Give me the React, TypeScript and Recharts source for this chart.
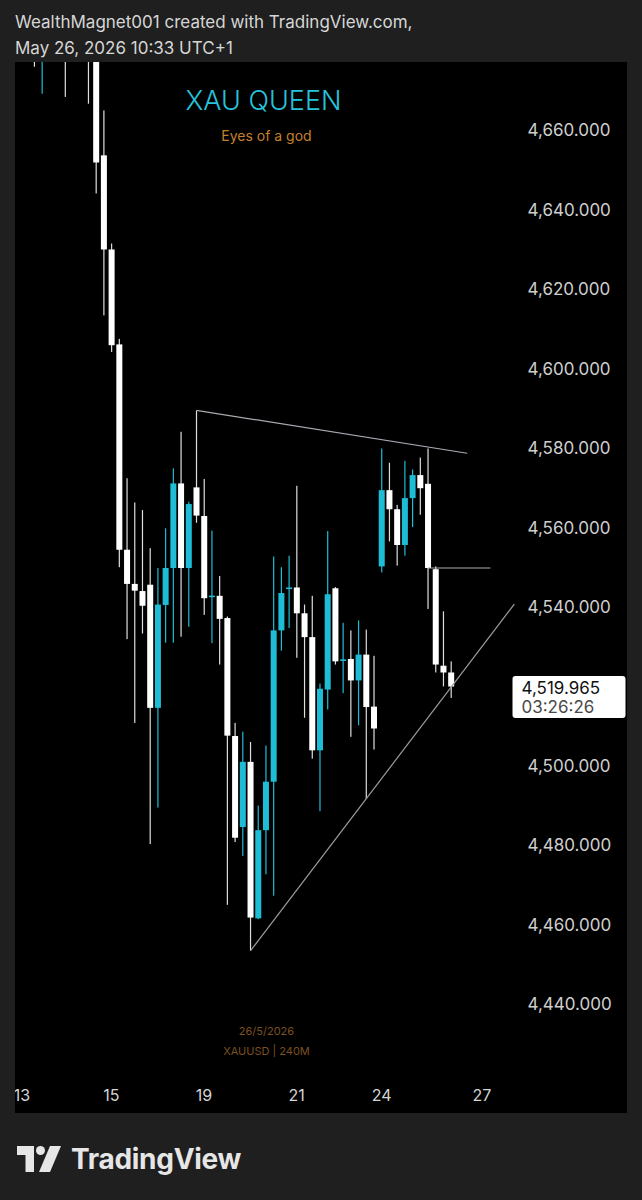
import React from "react";
import { ComposedChart, Bar, XAxis, YAxis, ReferenceLine } from "recharts";

// XAUUSD 240M candles (first few sit above the visible range)
const opens = [
  4712, 4688, 4702, 4707, 4696, 4684, 4694, 4688, 4685, 4653.7,
  4630, 4606.1, 4554.4, 4545.8, 4544, 4545.6, 4514.6, 4540.5, 4549.8, 4571.1,
  4549.8, 4570.1, 4562.9, 4542.4, 4542.8, 4537.2, 4507.5, 4484.6, 4501, 4461.6,
  4483.8, 4496, 4534.1, 4544.4, 4544.9, 4538.4, 4532.4, 4503.9, 4519.2, 4544.7,
  4526.3, 4526.9, 4521.5, 4528, 4514.9, 4550.2, 4569.4, 4564.6, 4555.6, 4567.4,
  4573.2, 4571, 4549.5, 4525.2, 4523.5,
];
const highs = [
  4718, 4708, 4712, 4714, 4703, 4700, 4699, 4697, 4690, 4665,
  4631.5, 4607.5, 4572.4, 4566.3, 4564.4, 4554.8, 4549.8, 4559.8, 4574.9, 4584.1,
  4566.5, 4589.4, 4572.2, 4559.2, 4547.8, 4537.6, 4510.8, 4508.6, 4506, 4490,
  4505.1, 4552.7, 4550, 4552.9, 4570.5, 4540.6, 4542.8, 4520.7, 4559.1, 4545,
  4536, 4534.1, 4536.6, 4534.3, 4527.7, 4579.9, 4576.3, 4565.7, 4576.8, 4574.6,
  4577.6, 4579.9, 4550.2, 4538.9, 4526.3,
];
const lows = [
  4676, 4669.2, 4684, 4690, 4668.4, 4680, 4679, 4666.7, 4644.1, 4613.4,
  4604.2, 4550, 4531.9, 4510.8, 4533.3, 4480.3, 4489.5, 4531, 4531, 4532.5,
  4535, 4561.2, 4538, 4530.9, 4525.5, 4465, 4480.8, 4477.3, 4453.5, 4461.4,
  4472.7, 4467.3, 4529, 4534.7, 4527.2, 4512.1, 4501.8, 4488.6, 4514.2, 4525.5,
  4518.3, 4507.3, 4510.2, 4491.7, 4504.1, 4548.7, 4556.5, 4550.4, 4552.9, 4560.1,
  4563.2, 4539.5, 4523.5, 4520, 4517.1,
];
const closes = [
  4695, 4702, 4707, 4696, 4684, 4694, 4688, 4685, 4651.9, 4630,
  4605.9, 4554.4, 4545.8, 4544.1, 4540.3, 4514.6, 4540.6, 4549.8, 4571.1, 4549.8,
  4565.9, 4563, 4542.2, 4542.9, 4537, 4507.6, 4481.9, 4501, 4461.8, 4483.8,
  4496, 4534.1, 4543.5, 4545, 4538.4, 4532.4, 4503.9, 4519.4, 4543.2, 4526.3,
  4526.9, 4521.5, 4528, 4514.8, 4509.4, 4569.4, 4564.6, 4555.6, 4567.4, 4573.2,
  4569.9, 4549.8, 4525.5, 4523.5, 4519.965,
];

const priceTicks = [4440, 4460, 4480, 4500, 4540, 4560, 4580, 4600, 4620, 4640, 4660];
const dayTicks = [-1.6, 10, 22, 34, 45, 58];
const dayLabels = ["13", "15", "19", "21", "24", "27"];

const upperTrend = [{ x: 21, y: 4589.5 }, { x: 56.1, y: 4578.7 }];
const lowerTrend = [{ x: 28, y: 4453.4 }, { x: 62.2, y: 4540.7 }];
const breakLine = [{ x: 51, y: 4549.8 }, { x: 59.1, y: 4549.8 }];
const lastPrice = 4519.965;
const countdown = "03:26:26";

const UP = "#1fbcd6";
const DOWN = "#ffffff";
const FONT = "Inter, 'Noto Sans', sans-serif";

const candles = opens.map((o, i) => ({
  i,
  wick: [lows[i], highs[i]],
  body: [Math.min(o, closes[i]), Math.max(o, closes[i])],
  up: closes[i] >= o,
}));

const fmtPrice = (v: number) =>
  v.toLocaleString("en-US", { minimumFractionDigits: 3, maximumFractionDigits: 3 });

const Wick = (p: any) => {
  const { x, y, width, height, payload } = p;
  if (!(height > 0)) return null;
  const cx = x + width / 2;
  return <rect x={cx - 0.6} y={y} width={1.2} height={height} fill={payload.up ? UP : "#dedede"} />;
};

const Body = (p: any) => {
  const { x, y, width, height, payload } = p;
  const cx = x + width / 2;
  let top = y;
  let h = height;
  if (payload.body[1] - payload.body[0] < 0.8) {
    top = y + height / 2 - 0.8;
    h = 1.6;
  }
  if (!(h > 0)) return null;
  return <rect x={cx - 3} y={top} width={6} height={h} fill={payload.up ? UP : DOWN} />;
};

const PriceTag = ({ viewBox }: any) => {
  if (!viewBox) return null;
  const left = viewBox.x + viewBox.width - 8;
  return (
    <g fontFamily={FONT}>
      <rect x={left} y={viewBox.y - 10.5} width={113} height={42} rx={3} fill="#ffffff" />
      <text x={left + 9} y={viewBox.y + 7.5} fontSize={17} fill="#111">{fmtPrice(lastPrice)}</text>
      <text x={left + 9} y={viewBox.y + 26.5} fontSize={17} fill="#4a4a4a">{countdown}</text>
    </g>
  );
};

const TvLogo = () => (
  <svg width={44} height={26} viewBox="0 0 44 26">
    <path d="M0 0 H17 V26 H8.5 V9 H0 Z" fill="#e6e6e6" />
    <circle cx={23.5} cy={4.5} r={4.5} fill="#e6e6e6" />
    <path d="M33 0 H44 L33 26 H22 Z" fill="#e6e6e6" />
  </svg>
);

export default function App() {
  return (
    <div style={{ position: "absolute", left: 0, top: 0, width: 642, height: 1200, background: "#1f1f1f", fontFamily: FONT, overflow: "hidden" }}>
      <div style={{ position: "absolute", left: 15, top: 10, color: "#d6d6d6", fontSize: 17, lineHeight: "24px", whiteSpace: "nowrap" }}>
        WealthMagnet001 created with TradingView.com,
      </div>
      <div style={{ position: "absolute", left: 15, top: 36, color: "#d6d6d6", fontSize: 17, lineHeight: "24px", whiteSpace: "nowrap" }}>
        May 26, 2026 10:33 UTC+1
      </div>

      <div style={{ position: "absolute", left: 15, top: 62, width: 612, height: 1051, background: "#000", overflow: "hidden" }}>
        <ComposedChart width={612} height={1051} data={candles} margin={{ top: 0, right: 0, bottom: 0, left: 0 }}>
          <XAxis
            xAxisId="main"
            dataKey="i"
            type="number"
            domain={[-2.5, 63]}
            allowDataOverflow
            ticks={dayTicks}
            interval={0}
            tickFormatter={(v: number) => dayLabels[dayTicks.indexOf(v)] ?? ""}
            axisLine={false}
            tickLine={false}
            height={33}
            tickMargin={4}
            tick={{ fill: "#d4d4d4", fontSize: 16, fontFamily: FONT }}
          />
          <XAxis xAxisId="wick" dataKey="i" type="number" domain={[-2.5, 63]} allowDataOverflow hide />
          <YAxis
            orientation="right"
            type="number"
            domain={[4420.9, 4677.2]}
            allowDataOverflow
            ticks={priceTicks}
            interval={0}
            width={106.5}
            axisLine={false}
            tickLine={false}
            tickSize={6}
            tickMargin={1}
            tickFormatter={fmtPrice}
            tick={{ fill: "#cfcfcf", fontSize: 17, fontFamily: FONT }}
          />
          <Bar xAxisId="wick" dataKey="wick" barSize={6} shape={(p: any) => <Wick {...p} />} isAnimationActive={false} />
          <Bar xAxisId="main" dataKey="body" barSize={6} shape={(p: any) => <Body {...p} />} isAnimationActive={false} />
          <ReferenceLine xAxisId="main" segment={upperTrend} stroke="#a9a9b2" strokeWidth={1.2} />
          <ReferenceLine xAxisId="main" segment={breakLine} stroke="#a9a9b2" strokeWidth={1.2} />
          <ReferenceLine xAxisId="main" segment={lowerTrend} stroke="#9c9ca4" strokeWidth={1.2} />
          <ReferenceLine xAxisId="main" y={lastPrice} stroke="#000" strokeOpacity={0} label={<PriceTag />} />
        </ComposedChart>

        <div style={{ position: "absolute", left: 0, width: 497, top: 22, textAlign: "center", color: "#27c3db", fontSize: 27, fontWeight: 300, lineHeight: "34px" }}>
          XAU QUEEN
        </div>
        <div style={{ position: "absolute", left: 0, width: 503, top: 64, textAlign: "center", color: "#c4812a", fontSize: 14, lineHeight: "20px" }}>
          Eyes of a god
        </div>
        <div style={{ position: "absolute", left: 0, width: 503, top: 962, textAlign: "center", color: "#7c5020", fontSize: 11, lineHeight: "14px" }}>
          26/5/2026
        </div>
        <div style={{ position: "absolute", left: 0, width: 503, top: 982, textAlign: "center", color: "#7c5020", fontSize: 11, lineHeight: "14px" }}>
          XAUUSD | 240M
        </div>
      </div>

      <div style={{ position: "absolute", left: 17, top: 1145, display: "flex", alignItems: "center" }}>
        <TvLogo />
        <span style={{ marginLeft: 10, color: "#e6e6e6", fontSize: 28, fontWeight: 700, lineHeight: "28px", letterSpacing: -0.3 }}>
          TradingView
        </span>
      </div>
    </div>
  );
}
